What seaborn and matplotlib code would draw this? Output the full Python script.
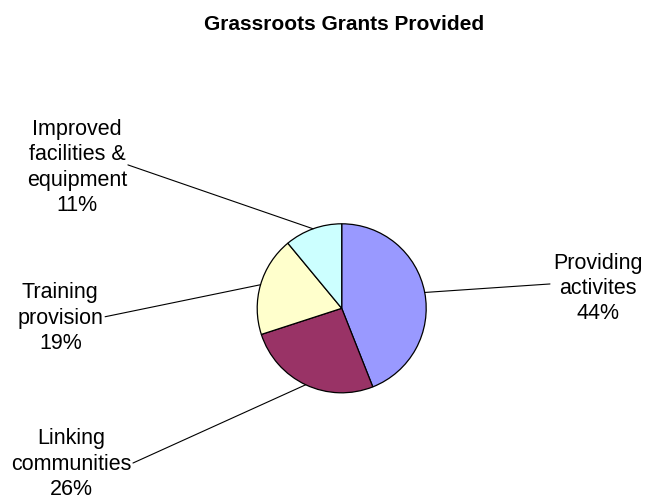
import numpy as np
import matplotlib
matplotlib.use("Agg")
import matplotlib.pyplot as plt
import seaborn as sns

categories = ["Providing\nactivites", "Linking\ncommunities", "Training\nprovision",
              "Improved\nfacilities &\nequipment"]
shares = [44, 26, 19, 11]
slice_colors = ["#9999FF", "#993366", "#FFFFCC", "#CCFFFF"]

# label anchor (text centre) and leader-line end, in pie-radius units
label_pos = [(3.03, 0.234), (-3.204, -1.845), (-3.33, -0.115), (-3.13, 1.666)]
line_end = [(2.465, 0.288), (-2.47, -1.831), (-2.80, -0.10), (-2.53, 1.697)]

sns.set_theme(style="white")
plt.rcParams["font.family"] = ["Liberation Sans", "DejaVu Sans"]

fig = plt.figure(figsize=(6.48, 5.01), dpi=100)
ax = fig.add_axes([0, 0, 1, 1])

r_px = 84.5
cx, cy = 341.7, 308.3

wedges, _ = ax.pie(shares, colors=slice_colors, startangle=90, counterclock=False,
                   radius=1.0, wedgeprops=dict(edgecolor="black", linewidth=0.9))
ax.set_aspect("auto")
ax.set_xlim(-cx / r_px, (648 - cx) / r_px)
ax.set_ylim(-(501 - cy) / r_px, cy / r_px)
ax.set_axis_off()

for w, lab, val, tp, le in zip(wedges, categories, shares, label_pos, line_end):
    mid = np.deg2rad((w.theta1 + w.theta2) / 2)
    px, py = np.cos(mid), np.sin(mid)
    ax.plot([px, le[0]], [py, le[1]], color="black", linewidth=0.8)
    ax.text(tp[0], tp[1], f"{lab}\n{val}%", ha="center", va="center",
            fontsize=15.5, linespacing=1.27, color="black")

fig.text(344 / 648, 1 - 25 / 501, "Grassroots Grants Provided", ha="center", va="center",
         fontsize=15, fontweight="bold", color="black")

fig.savefig("out.png", dpi=100, facecolor="white")
